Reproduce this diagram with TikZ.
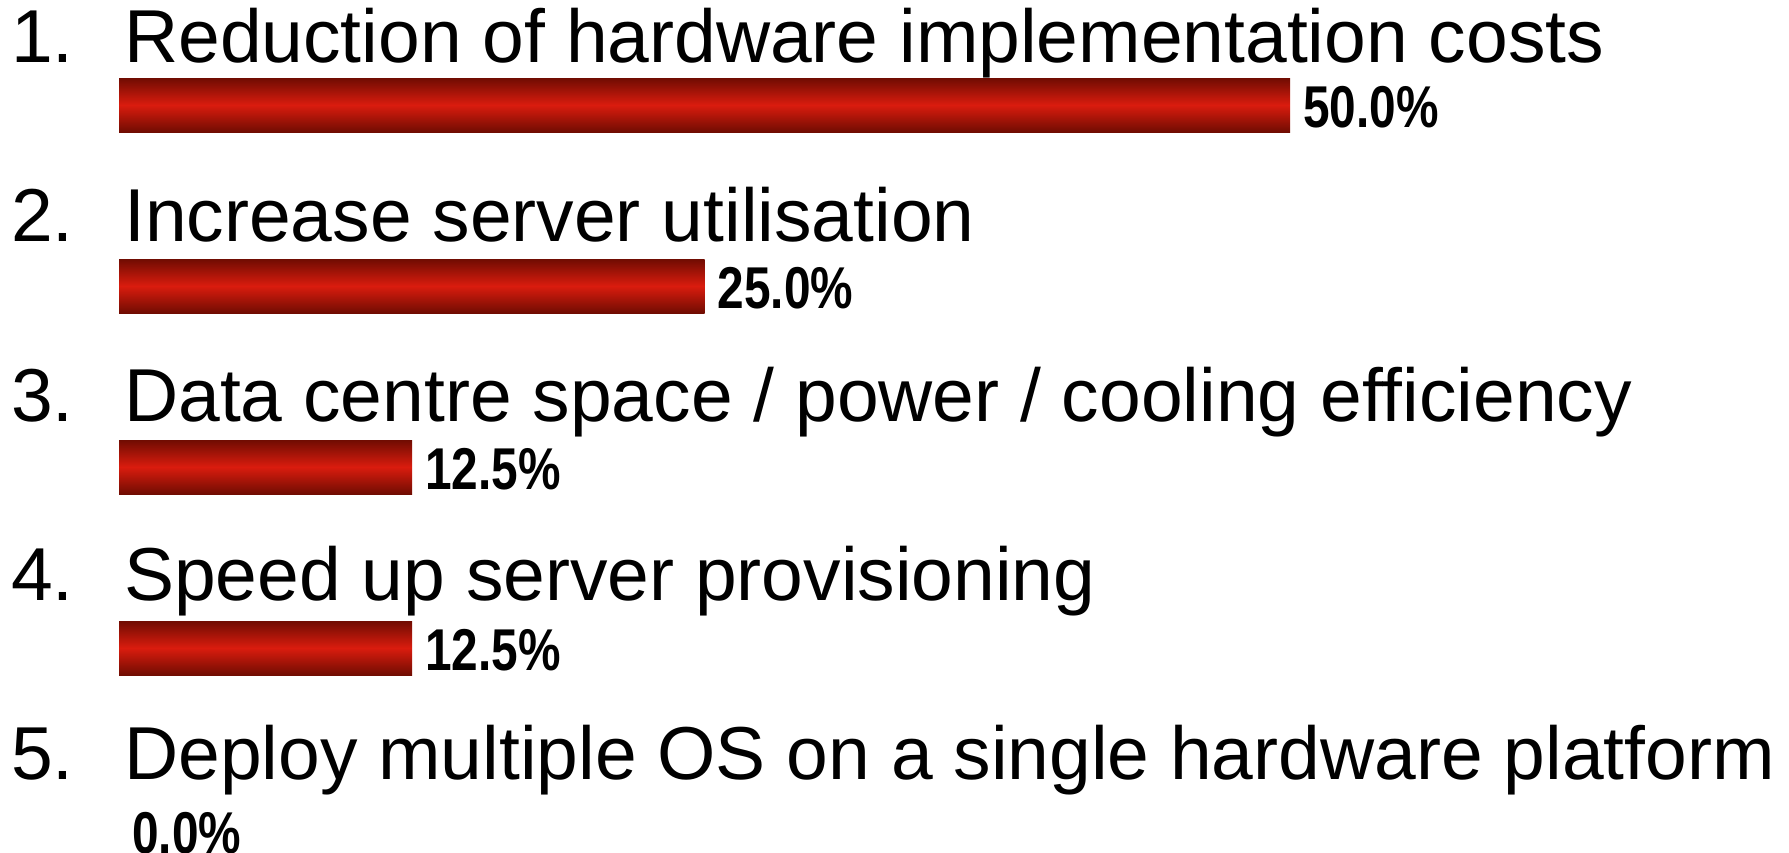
\documentclass[tikz,border=0pt]{standalone}
\usepackage{fontspec}
\setmainfont{Liberation Sans}
\definecolor{bardark}{RGB}{112,12,2}
\definecolor{barred}{RGB}{218,28,14}
\begin{document}
\begin{tikzpicture}[x=1pt,y=-1pt,
  num/.style={anchor=base west, inner sep=0pt, font=\fontsize{75}{80}\selectfont},
  item/.style={anchor=base west, inner sep=0pt, font=\fontsize{75}{80}\selectfont},
  pct/.style={anchor=base west, inner sep=0pt, font=\fontsize{59}{64}\selectfont\bfseries},
  bar/.style={top color=bardark, bottom color=bardark, middle color=barred, draw=none}]
\useasboundingbox (0,0) rectangle (1789,852);

% item 1
\node[num]  (n1) at (11,62)  {1.};
\node[item] (t1) at (124,62) {Reduction of hardware implementation costs};
\path[bar] (119,78) rectangle (1290,132);
\node[pct]  (p1) at (1303,127) {\scalebox{0.81}[1]{50.0\%}};

% item 2
\node[num]  (n2) at (11,241.5)  {2.};
\node[item] (t2) at (124,241.5) {Increase server utilisation};
\path[bar] (119,259) rectangle (704.5,313);
\node[pct]  (p2) at (717.5,308) {\scalebox{0.81}[1]{25.0\%}};

% item 3
\node[num]  (n3) at (11,421)  {3.};
\node[item] (t3) at (124,421) {Data centre space / power / cooling efficiency};
\path[bar] (119,440) rectangle (412,494);
\node[pct]  (p3) at (425,489) {\scalebox{0.81}[1]{12.5\%}};

% item 4
\node[num]  (n4) at (11,600.5)  {4.};
\node[item] (t4) at (124,600.5) {Speed up server provisioning};
\path[bar] (119,621) rectangle (412,675);
\node[pct]  (p4) at (425,670) {\scalebox{0.81}[1]{12.5\%}};

% item 5 (empty bar)
\node[num]  (n5) at (11,779)  {5.};
\node[item] (t5) at (124,779) {Deploy multiple OS on a single hardware platform};
\node[pct]  (p5) at (132,853) {\scalebox{0.81}[1]{0.0\%}};
\end{tikzpicture}
\end{document}
